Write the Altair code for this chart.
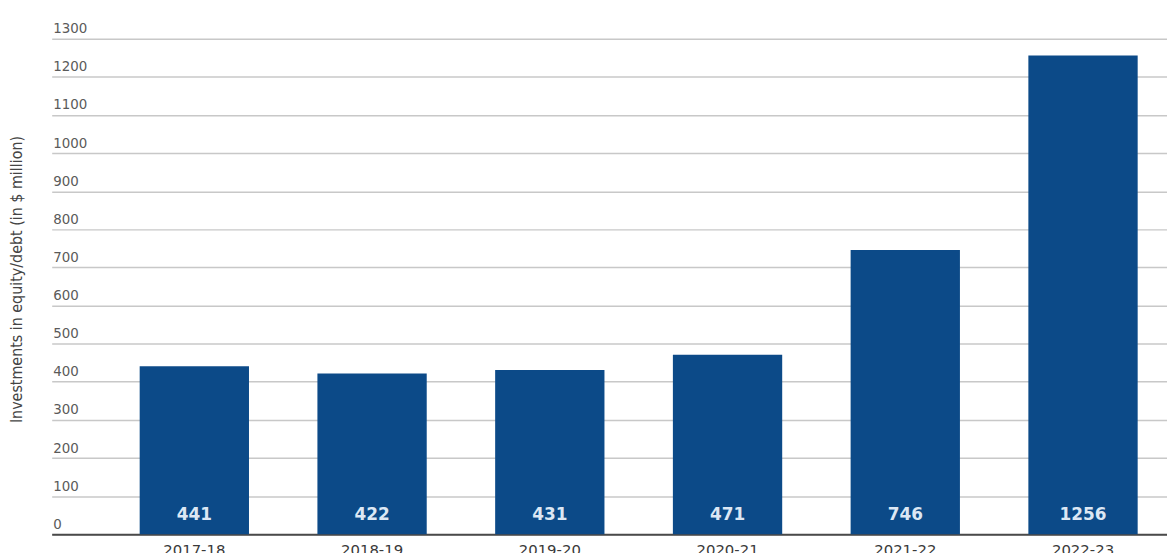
import altair as alt
import pandas as pd

years = ["2017-18", "2018-19", "2019-20", "2020-21", "2021-22", "2022-23"]
investments = [441, 422, 431, 471, 746, 1256]
y_ticks = list(range(0, 1301, 100))

df = pd.DataFrame({"year": years, "value": investments})

x_enc = alt.X(
    "year:N",
    sort=years,
    scale=alt.Scale(paddingInner=0.385, paddingOuter=0.33, align=0.75),
    axis=alt.Axis(
        title=None,
        labelAngle=0,
        labelFontSize=15,
        labelFont="DejaVu Sans",
        labelColor="#3a3a3a",
        labelPadding=8,
        ticks=False,
        domain=True,
        domainColor="#4a4a4a",
        domainWidth=2,
        grid=False,
    ),
)

y_axis = alt.Axis(
    values=y_ticks,
    format="d",
    labelOverlap=False,
    title="Investments in equity/debt (in $ million)",
    titleFont="DejaVu Sans Condensed, Liberation Sans Narrow, Roboto, sans-serif",
    titleFontSize=16,
    titleFontWeight="normal",
    titleColor="#444444",
    titleX=-35,
    titleY=242,
    titleBaseline="middle",
    titleAngle=270,
    labelAlign="left",
    labelBaseline="bottom",
    labelPadding=-1,
    labelOffset=-3,
    labelFont="DejaVu Sans",
    labelFontSize=13.5,
    labelColor="#5a5a5a",
    ticks=False,
    domain=False,
    grid=True,
    gridColor="#c8c8c8",
    gridWidth=1.5,
)
y_scale = alt.Scale(domain=[0, 1300], nice=False)

bars = alt.Chart(df).mark_bar(color="#0c4a88").encode(
    x=x_enc, y=alt.Y("value:Q", scale=y_scale, axis=y_axis)
)

labels = alt.Chart(df).transform_calculate(zero="0").mark_text(
    font="DejaVu Sans",
    fontSize=17,
    fontWeight="bold",
    color="#dce7f4",
    baseline="middle",
    dy=-19,
).encode(
    x=alt.X("year:N", sort=years),
    y=alt.Y("zero:Q", scale=y_scale, axis=y_axis),
    text=alt.Text("value:Q"),
)

chart = (
    alt.layer(bars, labels)
    .properties(
        width=1123,
        height=499,
        autosize=alt.AutoSizeParams(type="none"),
        padding={"left": 44, "top": 29, "right": 0, "bottom": 25},
        background="white",
    )
    .configure_view(stroke=None)
)

chart.save("out.html", embed_options={"renderer": "svg", "actions": False})
